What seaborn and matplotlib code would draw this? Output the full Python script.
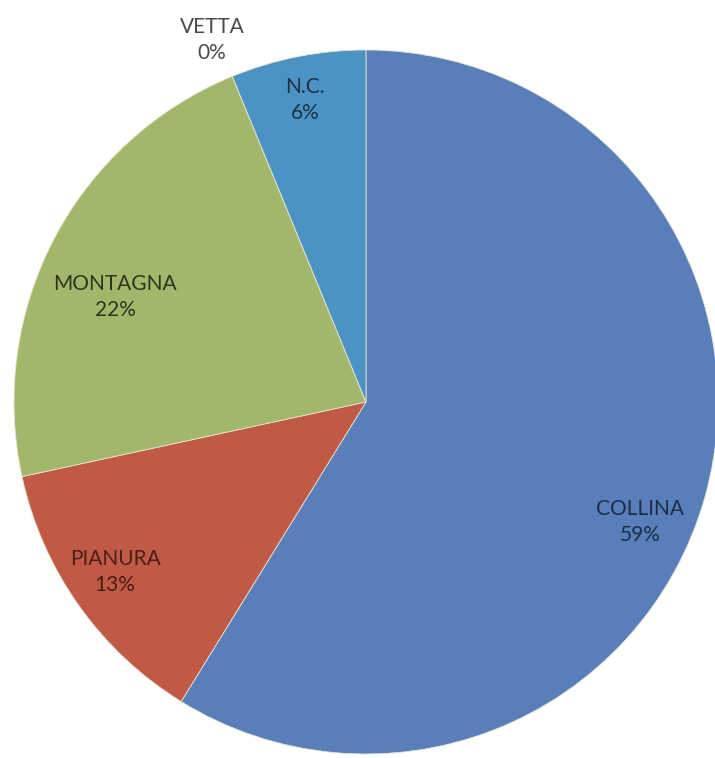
import matplotlib
matplotlib.use("Agg")
import matplotlib.pyplot as plt
import seaborn as sns

sns.set_theme(style="white")
plt.rcParams['font.family'] = ['Lato', 'DejaVu Sans']

categories = ["COLLINA", "PIANURA", "MONTAGNA", "VETTA", "N.C."]
values = [58.8, 12.8, 22.2, 0.0, 6.2]
shown_pct = ["59%", "13%", "22%", "0%", "6%"]
colors = ["#587fba", "#c05a47", "#a1b86a", "#7f65a0", "#4c93c5"]
label_colors = ["#1e2d45", "#4a1f14", "#2f3322", "#4a4a4a", "#1f3040"]
# label anchor positions in pie units (radius 1)
label_pos = [(0.778, -0.341), (-0.713, -0.483), (-0.713, 0.298),
             (-0.4375, 1.028), (-0.173, 0.858)]

fig = plt.figure(figsize=(7.15, 7.58), dpi=100)
ax = fig.add_axes([0.0196, 0.0053, 0.9846, 0.9288])
wedges, _ = ax.pie(values, colors=colors, startangle=90, counterclock=False,
                   radius=1.0, wedgeprops=dict(edgecolor="#e8e2cf", linewidth=0.6))
ax.set_xlim(-1, 1)
ax.set_ylim(-1, 1)
ax.set_aspect("auto")
ax.axis("off")

for cat, pct, (x, y), c in zip(categories, shown_pct, label_pos, label_colors):
    ax.text(x, y, f"{cat}\n{pct}", ha="center", va="center", fontsize=15,
            color=c, linespacing=1.4, clip_on=False)

fig.savefig("out.png", dpi=100)
